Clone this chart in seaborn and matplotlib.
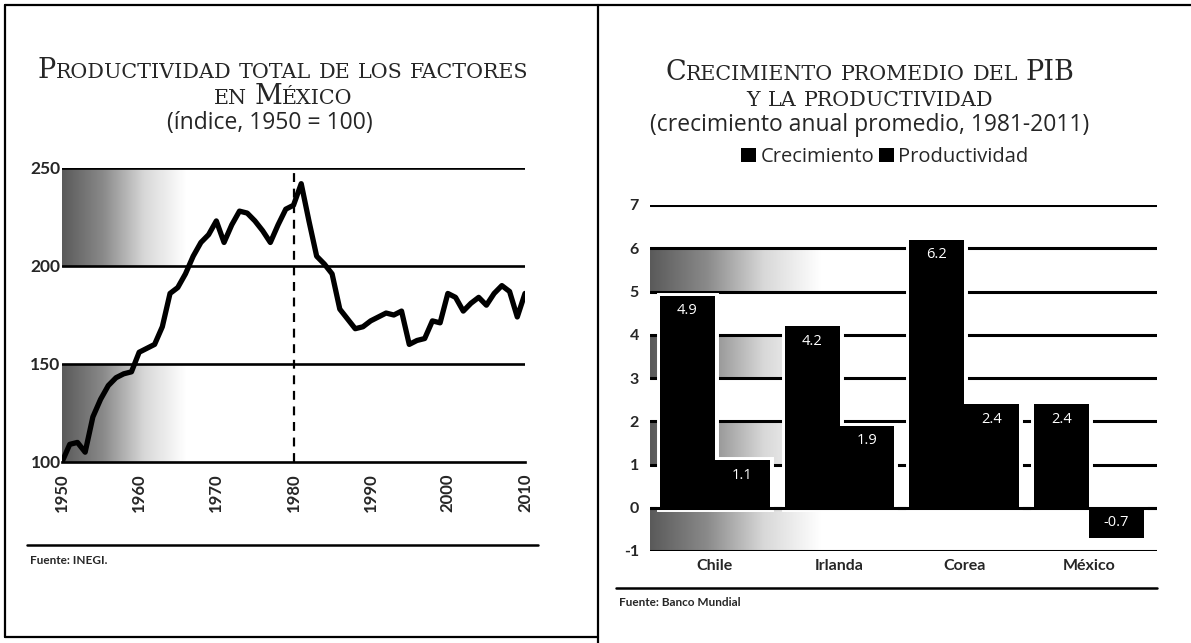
import numpy as np
import pandas as pd
import matplotlib
matplotlib.use("Agg")
import matplotlib.pyplot as plt
from matplotlib.colors import LinearSegmentedColormap
from matplotlib.lines import Line2D
import seaborn as sns

# datos panel izquierdo: PTF de México (1950 = 100)
anios = list(range(1950, 2011))
ptf = [100, 109, 110, 105, 123, 132, 139, 143, 145, 146,
       156, 158, 160, 169, 186, 189, 196, 205, 212, 216,
       223, 212, 221, 228, 227, 223, 218, 212, 221, 229,
       231, 242, 223, 205, 201, 196, 178, 173, 168, 169,
       172, 174, 176, 175, 177, 160, 162, 163, 172, 171,
       186, 184, 177, 181, 184, 180, 186, 190, 187, 174,
       186]
ticks_ptf = [100, 150, 200, 250]
decadas = [1950, 1960, 1970, 1980, 1990, 2000, 2010]

# datos panel derecho
paises = ["Chile", "Irlanda", "Corea", "México"]
crecimiento = [4.9, 4.2, 6.2, 2.4]
productividad = [1.1, 1.9, 2.4, -0.7]
ticks_pib = [-1, 0, 1, 2, 3, 4, 5, 6, 7]

W, H = 1191, 643
SERIF = "DejaVu Serif"
SANS = "Open Sans"
BOLD = "Lato"

sns.set_theme(style="white")
plt.rcParams["font.family"] = [SANS, "DejaVu Sans"]

fig = plt.figure(figsize=(W / 100, H / 100), dpi=100)
fig.patch.set_facecolor("white")


def px(x, y):
    return x / W, 1 - y / H


def rect(l, t, r, b):
    x0, y1 = px(l, t)
    x1, y0 = px(r, b)
    return [x0, y0, x1 - x0, y1 - y0]


def linea(x0, y0, x1, y1, lw=1.6):
    a, b = px(x0, y0)
    c, d = px(x1, y1)
    fig.add_artist(Line2D([a, c], [b, d], color="black", lw=lw, transform=fig.transFigure))


gris = LinearSegmentedColormap.from_list("gris", ["#5a5a5a", "#8a8a8a", "#d8d8d8", "#ffffff"])
grad = np.linspace(0, 1, 256).reshape(1, -1)


def banda(ax, x0, x1, y0, y1):
    ax.imshow(grad, extent=[x0, x1, y0, y1], aspect="auto", cmap=gris,
              interpolation="bicubic", zorder=0.5)


def small_caps(xc, yb, texto, size):
    # versalitas: mayusculas grandes, minusculas como mayusculas pequeñas
    r = fig.canvas.get_renderer()
    esp = size * 0.28 * 100 / 72
    palabras = []
    for w in texto.split(" "):
        trozos = []
        for ch in w:
            s = size if (ch.isupper() or not ch.isalpha()) else size * 0.76
            if trozos and trozos[-1][1] == s:
                trozos[-1][0] += ch.upper()
            else:
                trozos.append([ch.upper(), s])
        arts = [fig.text(0, 1 - yb / H, t, fontsize=s, family=SERIF, va="baseline")
                for t, s in trozos]
        anchos = [a.get_window_extent(r).width for a in arts]
        palabras.append((arts, anchos))
    total = sum(sum(a) for _, a in palabras) + esp * (len(palabras) - 1)
    x = xc - total / 2
    for arts, anchos in palabras:
        for a, w in zip(arts, anchos):
            a.set_x(x / W)
            x += w
        x += esp


# marcos
linea(5, 5, W, 5)
linea(5, 5, 5, 637)
linea(5, 637, 598, 637)
linea(598, 5, 598, 643)

# ---------- panel izquierdo ----------
ax1 = fig.add_axes(rect(62, 168, 525, 462))
banda(ax1, 1950, 1966, 200, 250)
banda(ax1, 1950, 1966, 100, 150)
for v in ticks_ptf[1:]:
    ax1.axhline(v, color="black", lw=1.9, zorder=1)
ax1.axvline(1980, color="black", lw=1.6, ls=(0, (4, 3)), zorder=2)

df1 = pd.DataFrame({"anio": anios, "ptf": ptf})
sns.lineplot(data=df1, x="anio", y="ptf", color="black", lw=3.8, ax=ax1, zorder=3)

ax1.set_xlim(1950, 2010)
ax1.set_ylim(100, 250)
for s in ["top", "right", "left"]:
    ax1.spines[s].set_visible(False)
ax1.spines["bottom"].set_color("black")
ax1.spines["bottom"].set_linewidth(1.9)
ax1.set_xticks(decadas)
ax1.set_xticklabels([str(d) for d in decadas], rotation=90, fontsize=12,
                    fontweight="bold", family=BOLD)
ax1.set_yticks(ticks_ptf)
ax1.set_yticklabels([str(v) for v in ticks_ptf], fontsize=12.5, fontweight="bold", family=BOLD)
ax1.tick_params(axis="x", direction="inout", length=8, width=1.6, color="black", pad=4)
ax1.tick_params(axis="y", length=0, pad=1)
ax1.set_xlabel("")
ax1.set_ylabel("")
ax1.set_facecolor("none")

small_caps(283, 78, "Productividad total de los factores", 19.5)
small_caps(283, 104, "en México", 19.5)
fig.text(270 / W, 1 - 123 / H, "(índice, 1950 = 100)", ha="center", va="center", fontsize=16.5)

linea(27, 545, 538, 545, lw=1.8)
fig.text(30 / W, 1 - 561 / H, "Fuente: INEGI.", ha="left", va="center", fontsize=8.5,
         fontweight="bold", family=BOLD)

# ---------- panel derecho ----------
ax2 = fig.add_axes(rect(650, 205, 1157, 551))
for y0 in [5, 3, 1, -1]:
    banda(ax2, -0.52, 0.85, y0, y0 + 1)
for v in ticks_pib:
    ax2.axhline(v, color="black", lw=2.2, zorder=1)

df2 = pd.DataFrame({
    "pais": paises * 2,
    "valor": crecimiento + productividad,
    "serie": ["Crecimiento"] * 4 + ["Productividad"] * 4,
})
# halo blanco alrededor de las barras
sns.barplot(data=df2, x="pais", y="valor", hue="serie", palette=["black", "black"],
            width=0.88, edgecolor="white", linewidth=5, legend=False, ax=ax2, zorder=2)
sns.barplot(data=df2, x="pais", y="valor", hue="serie", palette=["black", "black"],
            width=0.88, linewidth=0, ax=ax2, zorder=3)
ax2.axhline(0, color="black", lw=2.2, zorder=4)

for cont, vals in zip(ax2.containers[-2:], [crecimiento, productividad]):
    for bar, v in zip(cont, vals):
        y = v - 0.35 if v > 0 else v / 2
        ax2.text(bar.get_x() + bar.get_width() / 2, y, f"{v:.1f}", color="white",
                 ha="center", va="center", fontsize=10.5, zorder=5)

ax2.set_xlim(-0.52, 3.545)
ax2.set_ylim(-1, 7)
for s in ax2.spines.values():
    s.set_visible(False)
ax2.set_yticks(ticks_pib)
ax2.set_yticklabels([str(v) for v in ticks_pib], fontsize=11.5, fontweight="bold", family=BOLD)
ax2.tick_params(axis="y", length=0, pad=8)
ax2.tick_params(axis="x", length=0, pad=6)
for t in ax2.get_xticklabels():
    t.set_fontsize(11.5)
    t.set_fontweight("bold")
    t.set_family(BOLD)
ax2.set_xlabel("")
ax2.set_ylabel("")
ax2.set_facecolor("none")

sns.move_legend(ax2, "center", bbox_to_anchor=((885 - 650) / 507, 1 + (205 - 157) / 346),
                ncol=2, frameon=False, title=None, fontsize=14.5, handlelength=0.75,
                handleheight=0.75, handletextpad=0.2, columnspacing=0.25)

small_caps(870, 80, "Crecimiento promedio del PIB", 19.5)
small_caps(870, 106, "y la productividad", 19.5)
fig.text(870 / W, 1 - 125 / H, "(crecimiento anual promedio, 1981-2011)", ha="center",
         va="center", fontsize=16.5)

linea(616, 588, 1157, 588, lw=1.8)
fig.text(619 / W, 1 - 602 / H, "Fuente: Banco Mundial", ha="left", va="center", fontsize=8.5,
         fontweight="bold", family=BOLD)

fig.savefig("out.png", dpi=100)
